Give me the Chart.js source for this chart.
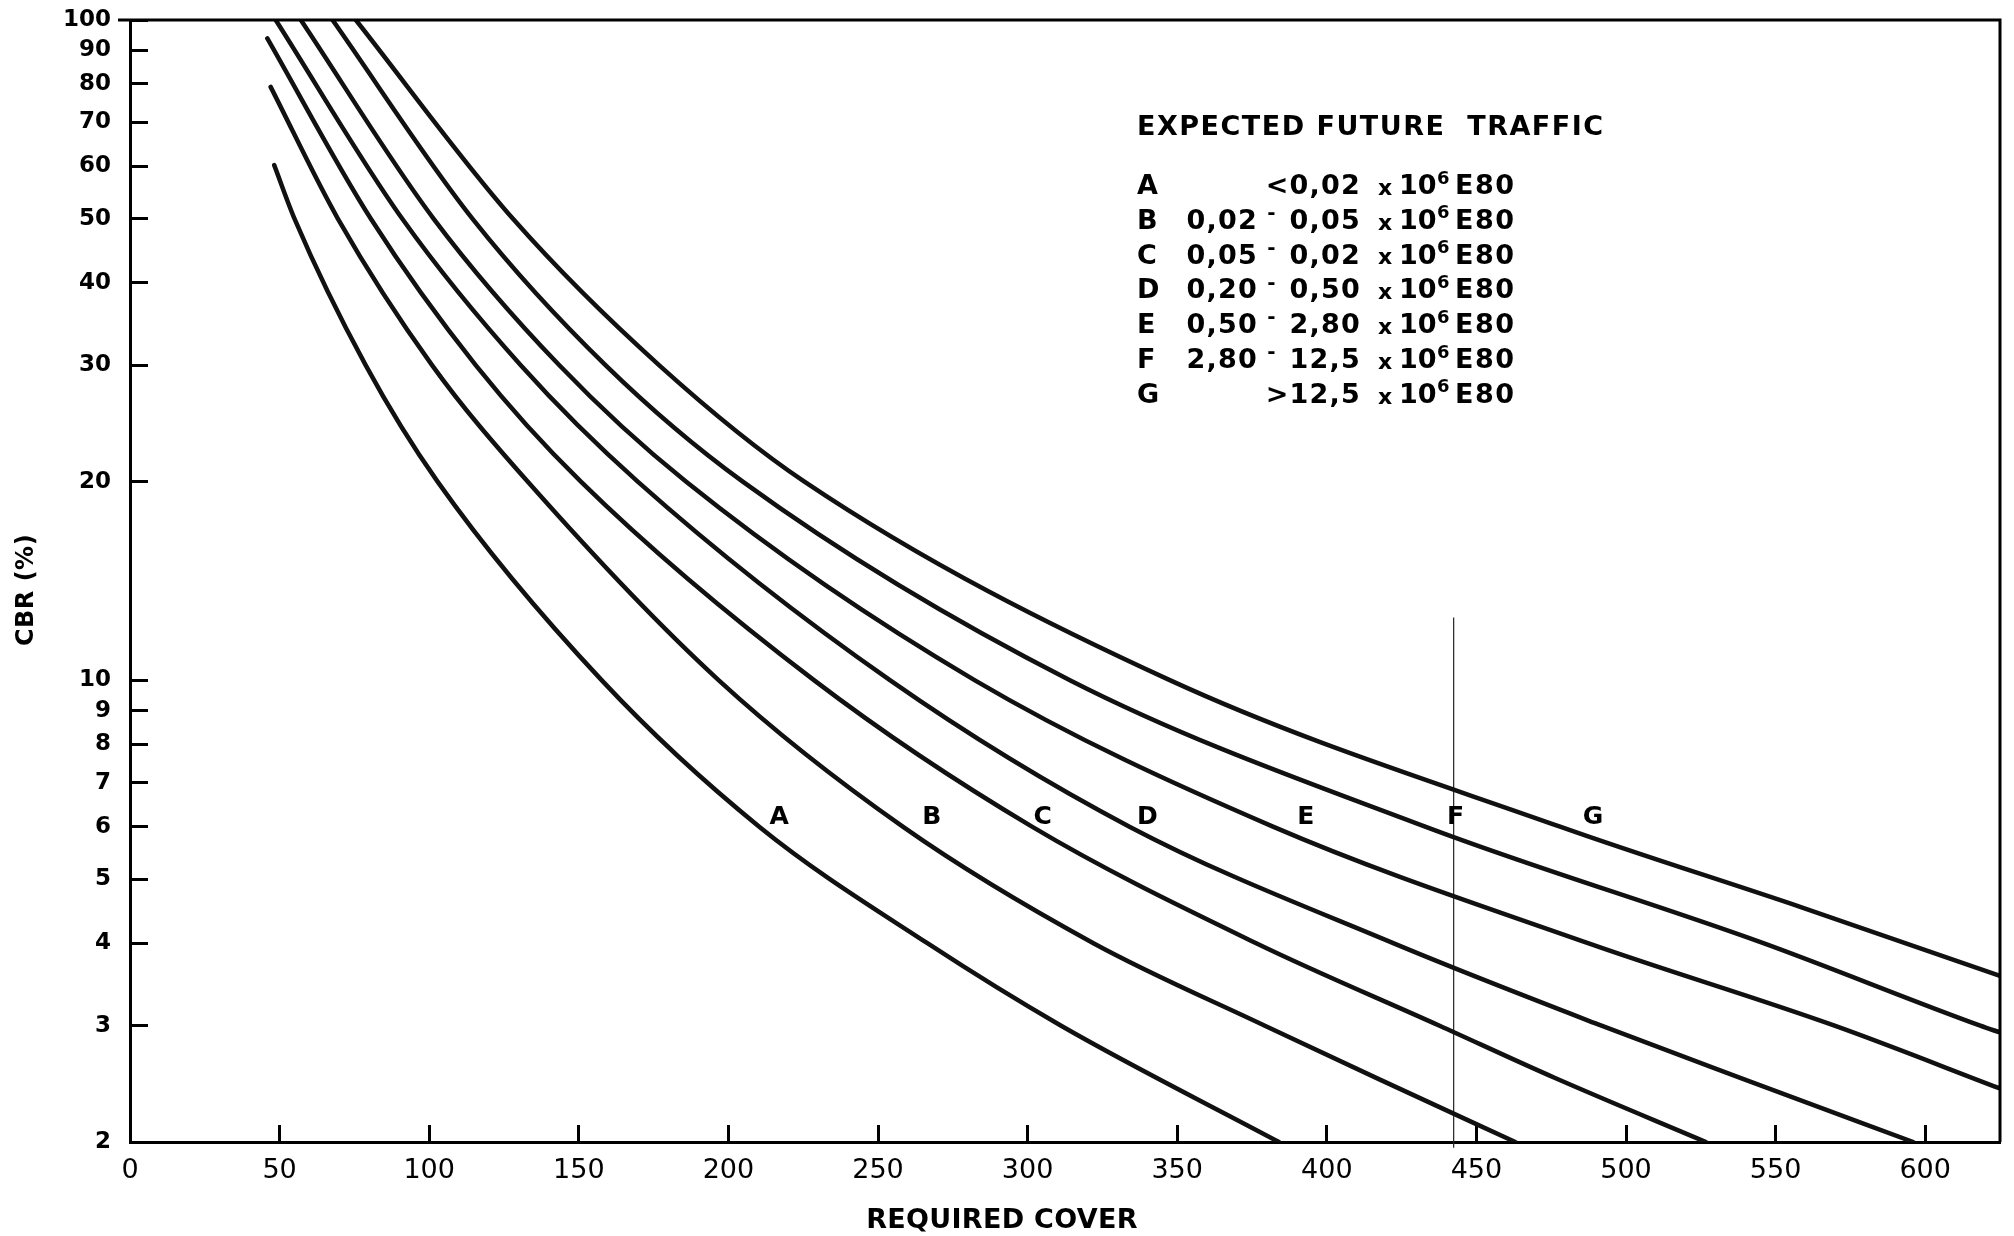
<!DOCTYPE html>
<html>
<head>
<meta charset="utf-8">
<script src="https://cdn.jsdelivr.net/npm/chart.js@4.4.1/dist/chart.umd.min.js"></script>
<style>
  html, body { margin: 0; padding: 0; background: #fff; }
  canvas { display: block; }
</style>
</head>
<body>
<canvas id="chart" width="2014" height="1236"></canvas>
<script>
// required cover against CBR (%), one design curve per traffic class
const curveNames = ["A", "B", "C", "D", "E", "F", "G"];

const coverA = [48.2, 55, 78.8, 102.8, 157.7, 210.4, 266.5, 311.2, 384];
const cbrA   = [60.3, 50, 30, 20, 10, 6, 4, 3, 2];
const coverB = [47, 69.5, 101, 132.9, 196.8, 258.4, 322, 379.3, 417.4, 463];
const cbrB   = [79.2, 50, 30, 20, 10, 6, 4, 3, 2.49, 2];
const coverC = [45.9, 80.5, 115.6, 150.7, 228.7, 301.6, 376.4, 437.7, 476.3, 526.7];
const cbrC   = [93.8, 50, 30, 20, 10, 6, 4, 3, 2.5, 2];
const coverD = [48.7, 91, 130.6, 169.7, 254.1, 334.2, 422.2, 491.8, 539.3, 596];
const cbrD   = [100, 50, 30, 20, 10, 6, 4, 3, 2.49, 2];
const coverE = [57.1, 101.5, 143.5, 185.8, 282.4, 382.2, 487.3, 569.7, 625];
const cbrE   = [100, 50, 30, 20, 10, 6, 4, 3, 2.41];
const coverF = [67.7, 114.5, 159, 204.8, 314.3, 433.1, 545.9, 618.4, 625];
const cbrF   = [100, 50, 30, 20, 10, 6, 4, 3, 2.93];
const coverG = [75.5, 128, 176.9, 225.4, 347.7, 478.2, 558.2, 625];
const cbrG   = [100, 50, 30, 20, 10, 6, 4.54, 3.57];

// where the curve letters sit along the curves
const labelCover = [217, 268, 305, 340, 393, 443, 489];
const labelCbr = 6.2;

// thin marker line
const markerCover = 442.4;
const markerTop = 12.45;
const markerBottom = 1.96;

// axis ticks
const coverTicks = [0, 50, 100, 150, 200, 250, 300, 350, 400, 450, 500, 550, 600];
const cbrTicks = [2, 3, 4, 5, 6, 7, 8, 9, 10, 20, 30, 40, 50, 60, 70, 80, 90, 100];

// traffic classes
const legendTitle = "EXPECTED FUTURE  TRAFFIC";
const trafficFrom = ["", "0,02", "0,05", "0,20", "0,50", "2,80", ""];
const trafficTo = ["<0,02", "0,05", "0,02", "0,50", "2,80", "12,5", ">12,5"];

const xTitle = "REQUIRED COVER";
const yTitle = "CBR (%)";

const covers = [coverA, coverB, coverC, coverD, coverE, coverF, coverG];
const cbrs = [cbrA, cbrB, cbrC, cbrD, cbrE, cbrF, cbrG];

const FONT = '"DejaVu Sans", "Liberation Sans", sans-serif';

const datasets = curveNames.map((name, i) => ({
  label: name,
  data: covers[i].map((c, j) => ({ x: c, y: cbrs[i][j] })),
  borderColor: "#111",
  borderWidth: 4.5,
  borderCapStyle: "round",
  pointRadius: 0,
  cubicInterpolationMode: "monotone",
  fill: false,
}));

datasets.push({
  label: "marker",
  data: [{ x: markerCover, y: markerTop }, { x: markerCover, y: markerBottom }],
  borderColor: "#222",
  borderWidth: 1.2,
  pointRadius: 0,
  clip: false,
});

// frame, curve letters, traffic table and axis titles
const annotate = {
  id: "annotate",
  afterDraw(chart) {
    const { ctx, chartArea, scales } = chart;
    const x = scales.x;
    const y = scales.y;
    ctx.save();

    ctx.strokeStyle = "#000";
    ctx.lineWidth = 3;
    ctx.beginPath();
    ctx.moveTo(chartArea.left - 12, chartArea.top);
    ctx.lineTo(chartArea.right, chartArea.top);
    ctx.lineTo(chartArea.right, chartArea.bottom);
    ctx.stroke();

    ctx.fillStyle = "#000";
    ctx.textBaseline = "middle";
    ctx.textAlign = "center";
    ctx.font = "bold 25px " + FONT;
    curveNames.forEach((n, i) => {
      ctx.fillText(n, x.getPixelForValue(labelCover[i]), y.getPixelForValue(labelCbr));
    });

    // traffic table
    ctx.letterSpacing = "1.5px";
    ctx.textAlign = "left";
    ctx.font = "bold 27px " + FONT;
    ctx.fillText(legendTitle, 1137, 128);

    curveNames.forEach((n, i) => {
      const ry = 187 + i * 34.8;
      ctx.letterSpacing = "1.2px";
      ctx.font = "bold 27px " + FONT;
      ctx.textAlign = "left";
      ctx.fillText(n, 1137, ry);
      ctx.textAlign = "right";
      if (trafficFrom[i]) {
        ctx.fillText(trafficFrom[i], 1258, ry);
        ctx.textAlign = "center";
        ctx.font = "bold 20px " + FONT;
        ctx.fillText("-", 1272, ry - 8);
        ctx.font = "bold 27px " + FONT;
        ctx.textAlign = "right";
      }
      ctx.fillText(trafficTo[i], 1361, ry);
      ctx.letterSpacing = "0px";
      ctx.textAlign = "center";
      ctx.font = "bold 22px " + FONT;
      ctx.fillText("x", 1385, ry + 2);
      ctx.textAlign = "left";
      ctx.font = "bold 27px " + FONT;
      ctx.fillText("10", 1399, ry);
      ctx.font = "bold 18px " + FONT;
      ctx.fillText("6", 1437, ry - 8);
      ctx.letterSpacing = "1.5px";
      ctx.font = "bold 27px " + FONT;
      ctx.fillText("E80", 1455, ry);
    });

    // axis titles
    ctx.letterSpacing = "0.3px";
    ctx.textAlign = "center";
    ctx.font = "bold 27px " + FONT;
    ctx.fillText(xTitle, 1002, 1221);

    ctx.translate(27, 590);
    ctx.rotate(-Math.PI / 2);
    ctx.letterSpacing = "0.5px";
    ctx.font = "bold 24px " + FONT;
    ctx.fillText(yTitle, 0, 0);

    ctx.restore();
  },
};

const ctx = document.getElementById("chart").getContext("2d");

new Chart(ctx, {
  type: "line",
  data: { datasets: datasets },
  plugins: [annotate],
  options: {
    responsive: false,
    animation: false,
    events: [],
    layout: { padding: { left: 0, right: 14, top: 20, bottom: 0 } },
    plugins: {
      legend: { display: false },
      tooltip: { enabled: false },
    },
    scales: {
      x: {
        type: "linear",
        min: 0,
        max: 625,
        afterBuildTicks: (scale) => {
          scale.ticks = coverTicks.map((v) => ({ value: v }));
        },
        afterFit: (scale) => {
          scale.height = 94;
          scale.paddingLeft = 0;
          scale.paddingRight = 0;
        },
        ticks: {
          autoSkip: false,
          maxRotation: 0,
          padding: 30,
          color: "#000",
          font: { family: FONT, size: 27, weight: "normal" },
          callback: (v) => String(v),
        },
        grid: {
          drawOnChartArea: false,
          tickLength: -17,
          tickWidth: 3,
          tickColor: "#000",
        },
        border: { color: "#000", width: 3 },
      },
      y: {
        type: "logarithmic",
        min: 2,
        max: 100,
        afterBuildTicks: (scale) => {
          scale.ticks = cbrTicks.map((v) => ({ value: v }));
        },
        afterFit: (scale) => {
          scale.width = 130;
          scale.paddingTop = 0;
          scale.paddingBottom = 0;
        },
        ticks: {
          autoSkip: false,
          padding: 37,
          color: "#000",
          font: { family: FONT, size: 23, weight: "bold" },
          callback: (v) => String(v),
        },
        grid: {
          drawOnChartArea: false,
          tickLength: -18,
          tickWidth: 3,
          tickColor: "#000",
        },
        border: { color: "#000", width: 3 },
      },
    },
  },
});
</script>
</body>
</html>
